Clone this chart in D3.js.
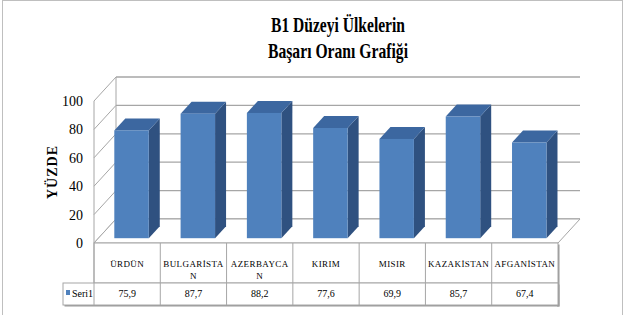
<!DOCTYPE html>
<html>
<head>
<meta charset="utf-8">
<script src="https://cdn.jsdelivr.net/npm/d3@7"></script>
<style>
  body { margin: 0; background: #fff; }
  svg { display: block; }
  text { font-family: "Liberation Serif", serif; }
</style>
</head>
<body>
<svg width="628" height="315"></svg>
<script>
// Veriler
var kategoriler = ["ÜRDÜN", "BULGARİSTA\nN", "AZERBAYCA\nN", "KIRIM", "MISIR", "KAZAKİSTAN", "AFGANİSTAN"];
var degerler = [75.9, 87.7, 88.2, 77.6, 69.9, 85.7, 67.4];
var eksenDegerleri = [0, 20, 40, 60, 80, 100];
var seriAdi = "Seri1";
var baslik = ["B1 Düzeyi Ülkelerin", "Başarı Oranı Grafiği"];
var eksenBasligi = "YÜZDE";

const svg = d3.select("svg");
const gri = "#a6a6a6";

// derinlik kaydırması (3B görünüm)
const derinX = 22, derinY = -24;

const x = d3.scaleBand().domain(kategoriler).range([94, 558]).padding(0);
const y = d3.scaleLinear().domain([0, 100]).range([243, 101]);

function nokta(px, v, d) {
    return [px + derinX * d, y(v) + derinY * d];
}

const virgul = d3.formatLocale({ decimal: ",", thousands: ".", grouping: [3], currency: ["", ""] });
const fmt = virgul.format(".1f");

// dış çerçeve
svg.append("rect")
    .attr("x", 2.5).attr("y", 0.5).attr("width", 620).attr("height", 330)
    .attr("fill", "none").attr("stroke", "#bfbfbf");

// başlık
svg.selectAll("text.baslik")
    .data(baslik)
    .enter().append("text")
    .attr("class", "baslik")
    .attr("x", 338)
    .attr("y", (d, i) => 32 + i * 26)
    .attr("text-anchor", "middle")
    .attr("textLength", (d, i) => i == 0 ? 134 : 140)
    .attr("lengthAdjust", "spacingAndGlyphs")
    .style("font-weight", "bold")
    .style("font-size", "21px")
    .text(d => d);

const xSol = x.range()[0], xSag = x.range()[1];

// arka duvar çizgileri
svg.selectAll("line.arka")
    .data(eksenDegerleri)
    .enter().append("line")
    .attr("x1", d => nokta(xSol, d, 1)[0])
    .attr("y1", d => nokta(xSol, d, 1)[1])
    .attr("x2", d => nokta(xSag, d, 1)[0])
    .attr("y2", d => nokta(xSag, d, 1)[1])
    .attr("stroke", gri).attr("stroke-width", 1.3);

// yan duvar çapraz çizgileri
svg.selectAll("line.yan")
    .data(eksenDegerleri)
    .enter().append("line")
    .attr("x1", d => nokta(xSol, d, 0)[0])
    .attr("y1", d => nokta(xSol, d, 0)[1])
    .attr("x2", d => nokta(xSol, d, 1)[0])
    .attr("y2", d => nokta(xSol, d, 1)[1])
    .attr("stroke", gri).attr("stroke-width", 1);

// yan duvar dikey kenarları
[0, 1].forEach(function (d) {
    svg.append("line")
        .attr("x1", nokta(xSol, 0, d)[0]).attr("y1", nokta(xSol, 0, d)[1])
        .attr("x2", nokta(xSol, 100, d)[0]).attr("y2", nokta(xSol, 100, d)[1])
        .attr("stroke", gri).attr("stroke-width", 1);
});

// zemin
const zemin = [nokta(xSol, 0, 0), nokta(xSag, 0, 0), nokta(xSag, 0, 1), nokta(xSol, 0, 1)];
svg.append("polygon")
    .attr("points", zemin.map(p => p.join(",")).join(" "))
    .attr("fill", "#fff").attr("stroke", gri).attr("stroke-width", 1);

// eksen etiketleri
svg.selectAll("text.eksen")
    .data(eksenDegerleri)
    .enter().append("text")
    .attr("class", "eksen")
    .attr("x", 83)
    .attr("y", d => y(d) + 5)
    .attr("text-anchor", "end")
    .style("font-size", "14px")
    .text(d => d);

svg.append("text")
    .attr("transform", "translate(57,172) rotate(-90)")
    .attr("text-anchor", "middle")
    .style("font-weight", "bold")
    .style("font-size", "14px")
    .style("letter-spacing", "1px")
    .text(eksenBasligi);

// 3B çubuklar
const on = 0.2, arka = 0.7;
const genislik = x.bandwidth() * 0.52;
const cubuk = svg.selectAll("g.cubuk")
    .data(kategoriler.map((k, i) => ({ k: k, v: degerler[i] })))
    .enter().append("g");

function yol(noktalar) {
    return "M" + noktalar.map(p => p.join(",")).join("L") + "Z";
}

cubuk.each(function (d) {
    const g = d3.select(this);
    const x0 = x(d.k) + (x.bandwidth() - genislik) / 2;
    const x1 = x0 + genislik;
    // yan yüz
    g.append("path")
        .attr("d", yol([nokta(x1, 0, on), nokta(x1, d.v, on), nokta(x1, d.v, arka), nokta(x1, 0, arka)]))
        .attr("fill", "#2f5180");
    // üst yüz
    g.append("path")
        .attr("d", yol([nokta(x0, d.v, on), nokta(x1, d.v, on), nokta(x1, d.v, arka), nokta(x0, d.v, arka)]))
        .attr("fill", "#3c67a0");
    // ön yüz
    const a = nokta(x0, d.v, on), b = nokta(x1, 0, on);
    g.append("rect")
        .attr("x", a[0]).attr("y", a[1])
        .attr("width", b[0] - a[0]).attr("height", b[1] - a[1])
        .attr("fill", "#4f81bd");
});

// veri tablosu
const satir1 = 243, satir2 = 283, satir3 = 305, efsaneX = 63;
const tablo = svg.append("g");

tablo.append("rect")
    .attr("x", efsaneX + 1.5).attr("y", satir2 + 1.5)
    .attr("width", xSag - efsaneX).attr("height", satir3 - satir2)
    .attr("fill", "#9a9a9a");
tablo.append("rect")
    .attr("x", xSag - 1).attr("y", satir1 + 1.5)
    .attr("width", 2.5).attr("height", satir3 - satir1)
    .attr("fill", "#9a9a9a");

tablo.append("rect")
    .attr("x", xSol).attr("y", satir1)
    .attr("width", xSag - xSol).attr("height", satir2 - satir1)
    .attr("fill", "#fff").attr("stroke", gri);
tablo.append("rect")
    .attr("x", efsaneX).attr("y", satir2)
    .attr("width", xSag - efsaneX).attr("height", satir3 - satir2)
    .attr("fill", "#fff").attr("stroke", gri);

tablo.selectAll("line.bolme")
    .data(kategoriler)
    .enter().append("line")
    .attr("x1", d => x(d)).attr("x2", d => x(d))
    .attr("y1", satir1).attr("y2", satir3)
    .attr("stroke", gri);

// kategori adları
tablo.selectAll("text.kat")
    .data(kategoriler)
    .enter().append("text")
    .attr("x", d => x(d) + x.bandwidth() / 2)
    .attr("y", 267)
    .attr("text-anchor", "middle")
    .style("font-size", "9px")
    .style("letter-spacing", "0.4px")
    .each(function (d) {
        const t = d3.select(this);
        d.split("\n").forEach(function (s, i) {
            t.append("tspan")
                .attr("x", x(d) + x.bandwidth() / 2)
                .attr("dy", i == 0 ? 0 : 12)
                .text(s);
        });
    });

// değerler
tablo.selectAll("text.deger")
    .data(degerler)
    .enter().append("text")
    .attr("x", (d, i) => x(kategoriler[i]) + x.bandwidth() / 2)
    .attr("y", 297)
    .attr("text-anchor", "middle")
    .style("font-size", "10px")
    .text(d => fmt(d));

// efsane
tablo.append("rect")
    .attr("x", 66).attr("y", 290).attr("width", 4).attr("height", 5)
    .attr("fill", "#4f81bd");
tablo.append("text")
    .attr("x", 72).attr("y", 297)
    .style("font-size", "10px")
    .text(seriAdi);
</script>
</body>
</html>
